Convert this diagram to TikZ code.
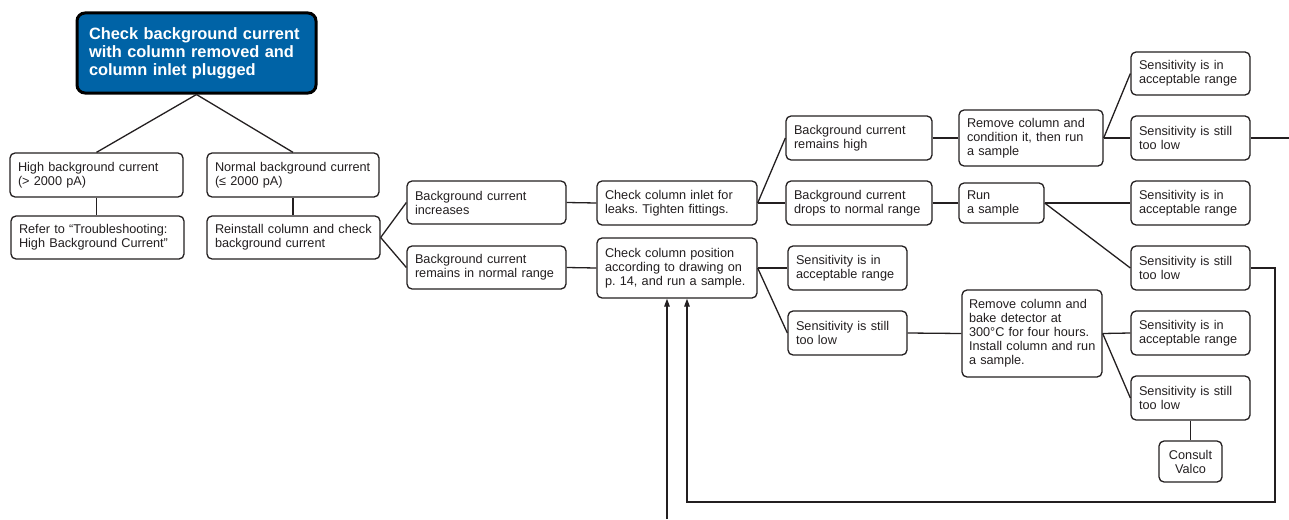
\documentclass[tikz,border=0pt]{standalone}
\usepackage{fontspec}
\setmainfont{Liberation Sans}
\usetikzlibrary{arrows.meta}
\definecolor{ink}{HTML}{231F20}
\definecolor{topblue}{RGB}{0,99,166}
\frenchspacing
\begin{document}
\begin{tikzpicture}[x=1pt,y=-1pt,
  nbox/.style={draw=ink, line width=1.3pt, rounded corners=5pt, fill=white, align=left,
    font=\fontsize{12.7}{14}\selectfont\frenchspacing, inner xsep=8pt, inner ysep=0pt, text=ink},
  topbox/.style={draw=black, line width=3pt, rounded corners=8pt, fill=topblue, text=white,
    align=left, font=\fontsize{16.4}{18}\selectfont\bfseries, inner xsep=12pt, inner ysep=0pt},
  conn/.style={draw=ink, line width=1.3pt},
  arr/.style={conn, -{Triangle[length=8pt,width=5.5pt]}}]
\useasboundingbox (0,0) rectangle (1289,519);

\node[topbox, text width=215pt, minimum height=80pt] (top) at (196.5,53)
  {Check background current\\with column removed and\\column inlet plugged};
\node[nbox, text width=157pt, minimum height=44pt] (high) at (96.5,175)
  {High background current\\(> 2000 pA)};
\node[nbox, text width=157pt, minimum height=43pt] (refer) at (97.5,237.5)
  {Refer to “Troubleshooting:\\High Background Current”};
\node[nbox, text width=156pt, minimum height=44pt] (normal) at (293,175)
  {\mbox{Normal background current}\\(≤ 2000 pA)};
\node[nbox, text width=157pt, minimum height=43pt] (reinstall) at (293.5,237.5)
  {\mbox{Reinstall column and check}\\background current};
\node[nbox, text width=143pt, minimum height=43pt] (increases) at (486.5,202.5)
  {Background current\\increases};
\node[nbox, text width=143pt, minimum height=43pt] (remnormal) at (486.5,267.5)
  {Background current\\remains in normal range};
\node[nbox, text width=144pt, minimum height=44pt] (inlet) at (677,203)
  {Check column inlet for\\leaks. Tighten fittings.};
\node[nbox, text width=144pt, minimum height=60pt] (position) at (677,268)
  {Check column position\\according to drawing on\\p. 14, and run a sample.};
\node[nbox, text width=130pt, minimum height=44pt] (remhigh) at (859,138)
  {Background current\\remains high};
\node[nbox, text width=130pt, minimum height=44pt] (drops) at (859,203)
  {Background current\\drops to normal range};
\node[nbox, text width=128pt, minimum height=56pt] (condition) at (1031,138)
  {Remove column and\\condition it, then run\\a sample};
\node[nbox, text width=69pt, minimum height=40pt] (run) at (1001.5,203)
  {Run\\a sample};
\node[nbox, text width=103pt, minimum height=43pt] (sensA1) at (1190.5,73.5)
  {Sensitivity is in\\acceptable range};
\node[nbox, text width=103pt, minimum height=44pt] (sensL1) at (1190.5,138)
  {Sensitivity is still\\too low};
\node[nbox, text width=103pt, minimum height=44pt] (sensA2) at (1190.5,203)
  {Sensitivity is in\\acceptable range};
\node[nbox, text width=103pt, minimum height=44pt] (sensL2) at (1190.5,268)
  {Sensitivity is still\\too low};
\node[nbox, text width=103pt, minimum height=44pt] (sensA3) at (847.5,268)
  {Sensitivity is in\\acceptable range};
\node[nbox, text width=103pt, minimum height=44pt] (sensL3) at (847.5,333)
  {Sensitivity is still\\too low};
\node[nbox, inner xsep=7pt, text width=126pt, minimum height=87pt] (bake) at (1032,333.5)
  {Remove column and\\bake detector at\\\mbox{300°C for four hours.}\\\mbox{Install column and run}\\a sample.};
\node[nbox, text width=103pt, minimum height=44pt] (sensA4) at (1190.5,333)
  {Sensitivity is in\\acceptable range};
\node[nbox, text width=103pt, minimum height=44pt] (sensL4) at (1190.5,398)
  {Sensitivity is still\\too low};
\node[nbox, align=center, text width=47pt, minimum height=41pt] (consult) at (1190.5,461.5)
  {Consult\\Valco};

\coordinate (edge1) at (1289,138);
\coordinate (loop) at (1275,502);
\coordinate (bottom) at (667,519);

\draw[conn] (top.south) -- (high.north);
\draw[conn] (top.south) -- (normal.north);
\draw[conn] (high.south) -- (high.south |- refer.north);
\draw[conn] (normal.south) -- (normal.south |- reinstall.north);
\draw[conn] (reinstall.east) -- (increases.west);
\draw[conn] (reinstall.east) -- (remnormal.west);
\draw[conn] (increases.east) -- (inlet.west);
\draw[conn] (remnormal.east) -- (position.west);
\draw[conn] (inlet.east) -- (remhigh.west);
\draw[conn] (inlet.east) -- (drops.west);
\draw[conn] (remhigh.east) -- (condition.west);
\draw[conn] (drops.east) -- (run.west);
\draw[conn] (condition.east) -- (sensA1.west);
\draw[conn] (condition.east) -- (sensL1.west);
\draw[conn] (sensL1.east) -- (edge1);
\draw[conn] (run.east) -- (sensA2.west);
\draw[conn] (run.east) -- (sensL2.west);
\draw[conn] (position.east) -- (sensA3.west);
\draw[conn] (position.east) -- (sensL3.west);
\draw[conn] (sensL3.east) -- (bake.west);
\draw[conn] (bake.east) -- (sensA4.west);
\draw[conn] (bake.east) -- (sensL4.west);
\draw[conn] (sensL4.south) -- (consult.north);
\draw[arr] (sensL2.east) -| (loop) -| ([xshift=10pt]position.south);
\draw[arr] (bottom) -- ([xshift=-10pt]position.south);
\end{tikzpicture}
\end{document}
